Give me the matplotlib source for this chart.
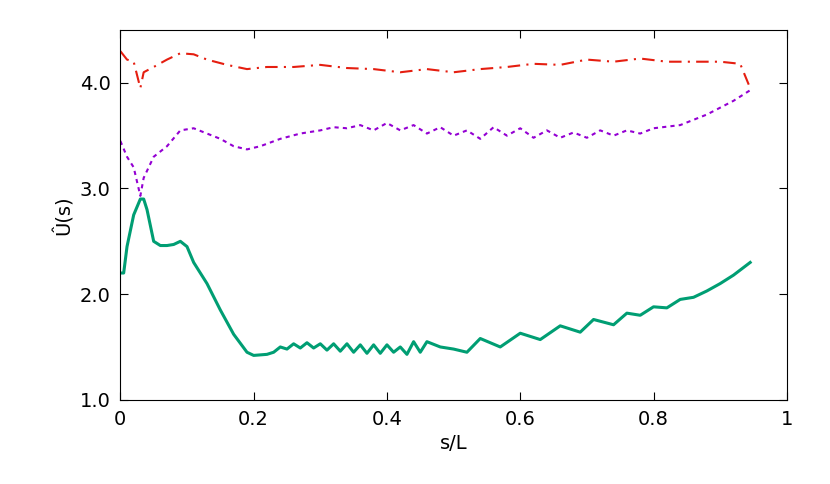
import matplotlib.pyplot as plt

# green solid
s_green = [0, 0.005, 0.01, 0.02, 0.03, 0.035, 0.04, 0.05, 0.06, 0.07, 0.08, 0.09, 0.1, 0.11, 0.13,
           0.15, 0.17, 0.19, 0.2, 0.22, 0.23, 0.24, 0.25, 0.26, 0.27, 0.28, 0.29, 0.3, 0.31, 0.32,
           0.33, 0.34, 0.35, 0.36, 0.37, 0.38, 0.39, 0.4, 0.41, 0.42, 0.43, 0.44, 0.45, 0.46, 0.48,
           0.5, 0.52, 0.54, 0.57, 0.6, 0.63, 0.66, 0.69, 0.71, 0.74, 0.76, 0.78, 0.8, 0.82, 0.84,
           0.86, 0.88, 0.9, 0.92, 0.945]
u_green = [2.2, 2.2, 2.45, 2.75, 2.9, 2.9, 2.8, 2.5, 2.46, 2.46, 2.47, 2.5, 2.45, 2.3, 2.1,
           1.85, 1.62, 1.45, 1.42, 1.43, 1.45, 1.5, 1.48, 1.53, 1.49, 1.54, 1.49, 1.53, 1.47, 1.53,
           1.46, 1.53, 1.45, 1.52, 1.44, 1.52, 1.44, 1.52, 1.45, 1.5, 1.43, 1.55, 1.45, 1.55, 1.5,
           1.48, 1.45, 1.58, 1.5, 1.63, 1.57, 1.7, 1.64, 1.76, 1.71, 1.82, 1.8, 1.88, 1.87, 1.95,
           1.97, 2.03, 2.1, 2.18, 2.3]

# purple dotted
s_purple = [0, 0.01, 0.02, 0.03, 0.035, 0.05, 0.07, 0.09, 0.11, 0.13, 0.15, 0.17, 0.19, 0.21,
            0.24, 0.27, 0.3, 0.32, 0.34, 0.36, 0.38, 0.4, 0.42, 0.44, 0.46, 0.48, 0.5, 0.52, 0.54,
            0.56, 0.58, 0.6, 0.62, 0.64, 0.66, 0.68, 0.7, 0.72, 0.74, 0.76, 0.78, 0.8, 0.84, 0.88,
            0.92, 0.945]
u_purple = [3.45, 3.3, 3.2, 2.93, 3.1, 3.3, 3.4, 3.55, 3.57, 3.52, 3.47, 3.4, 3.37, 3.4,
            3.47, 3.52, 3.55, 3.58, 3.57, 3.6, 3.55, 3.62, 3.55, 3.6, 3.52, 3.58, 3.5, 3.55, 3.47,
            3.58, 3.5, 3.57, 3.48, 3.55, 3.48, 3.53, 3.48, 3.55, 3.5, 3.55, 3.52, 3.57, 3.6, 3.7,
            3.83, 3.93]

# red dash-dot
s_red = [0, 0.01, 0.02, 0.03, 0.035, 0.05, 0.07, 0.09, 0.11, 0.13, 0.16, 0.19, 0.22, 0.26, 0.3,
         0.34, 0.38, 0.42, 0.46, 0.5, 0.54, 0.58, 0.62, 0.66, 0.7, 0.74, 0.78, 0.82, 0.86, 0.9,
         0.93, 0.945]
u_red = [4.3, 4.22, 4.2, 3.95, 4.1, 4.15, 4.22, 4.28, 4.27, 4.22, 4.17, 4.13, 4.15, 4.15, 4.17,
         4.14, 4.13, 4.1, 4.13, 4.1, 4.13, 4.15, 4.18, 4.17, 4.22, 4.2, 4.23, 4.2, 4.2, 4.2,
         4.18, 3.95]

x_ticks = [0, 0.2, 0.4, 0.6, 0.8, 1]
x_labels = ["0", "0.2", "0.4", "0.6", "0.8", "1"]
y_ticks = [1.0, 2.0, 3.0, 4.0]

fig, ax = plt.subplots(figsize=(8.3, 4.84), dpi=100)
fig.subplots_adjust(left=0.145, right=0.948, top=0.938, bottom=0.174)

ax.plot(s_red, u_red, color="#e51e10", lw=1.5, dashes=(6, 3, 1, 3))
ax.plot(s_purple, u_purple, color="#9400d3", lw=1.5, ls=(0, (2, 2)))
ax.plot(s_green, u_green, color="#009e73", lw=2.2)

ax.set_xlim(0, 1)
ax.set_ylim(1.0, 4.5)
ax.set_xticks(x_ticks, x_labels)
ax.set_yticks(y_ticks, [f"{v:.1f}" for v in y_ticks])
ax.tick_params(direction="in", top=True, right=True, labelsize=14, length=6, pad=7)
ax.set_xlabel("s/L", fontsize=14)
ax.set_ylabel("Û(s)", fontsize=14)

fig.savefig("out.png", dpi=100)
